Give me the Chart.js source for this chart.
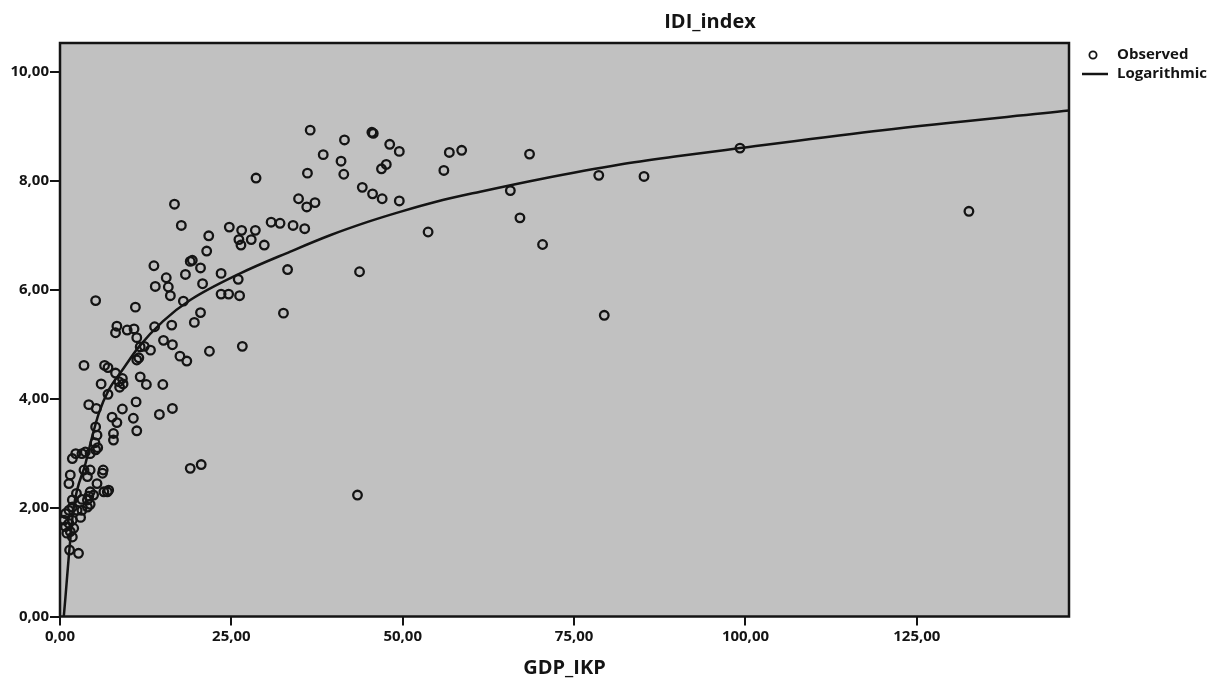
<!DOCTYPE html>
<html>
<head>
<meta charset="utf-8">
<script src="https://cdn.jsdelivr.net/npm/chart.js@4.4.1/dist/chart.umd.min.js"></script>
<style>
  html, body { margin: 0; padding: 0; background: #fff; }
  #wrap { width: 1216px; height: 678px; position: relative; }
</style>
</head>
<body>
<div id="wrap"><canvas id="chart" width="1216" height="678"></canvas></div>
<script>
// observed points (GDP_IKP, IDI_index)
const obsX = [36.5, 38.4, 41.5, 45.5, 45.7, 41.0, 41.4, 48.1, 49.5, 47.6, 46.9, 44.1, 45.6, 47.0, 49.5,
  56.8, 58.6, 56.0, 53.7, 43.7, 68.5, 78.6, 65.7, 67.1, 70.4, 79.4, 99.2, 85.2, 132.6, 43.4,
  36.1, 28.6, 34.8, 36.0, 37.2, 30.8, 32.1, 34.0, 35.7, 24.7, 26.5, 28.5, 21.7, 26.1, 26.4,
  27.9, 29.8, 21.4, 19.3, 20.5, 23.5, 33.2, 20.8, 26.0, 23.5, 24.6, 26.2, 20.5, 19.6, 32.6,
  21.8, 26.6, 20.6, 19.0, 16.7, 17.7, 13.7, 19.0, 18.3, 15.5, 13.9, 15.8, 5.2, 11.0, 16.1,
  18.0, 13.8, 8.3, 8.1, 9.8, 10.8, 11.2, 12.3, 11.7, 11.5, 11.2, 13.2, 15.1, 16.4, 16.3,
  17.5, 18.5, 3.5, 6.5, 7.0, 8.1, 6.0, 7.0, 8.6, 9.1, 9.2, 8.7, 11.7, 12.6, 15.0,
  4.2, 5.3, 11.1, 9.1, 7.6, 8.3, 10.7, 11.2, 7.8, 7.8, 14.5, 16.4, 5.2, 5.4, 5.1,
  5.5, 5.2, 4.4, 3.7, 3.2, 2.3, 1.8, 3.5, 4.0, 4.4, 1.5, 1.3, 6.3, 6.2, 5.4,
  6.9, 6.4, 7.1, 2.4, 4.2, 4.4, 4.9, 3.2, 4.0, 4.4, 4.0, 1.8, 1.8, 1.3, 2.5,
  3.2, 0.8, 0.6, 0.8, 1.3, 1.8, 2.0, 1.8, 3.0, 1.4, 2.7, 1.0, 1.5];
const obsY = [8.93, 8.48, 8.75, 8.89, 8.87, 8.36, 8.12, 8.67, 8.54, 8.30, 8.22, 7.88, 7.76, 7.67, 7.63,
  8.52, 8.56, 8.19, 7.06, 6.33, 8.49, 8.10, 7.82, 7.32, 6.83, 5.53, 8.60, 8.08, 7.44, 2.23,
  8.14, 8.05, 7.67, 7.52, 7.60, 7.24, 7.22, 7.18, 7.12, 7.15, 7.09, 7.09, 6.99, 6.92, 6.82,
  6.92, 6.82, 6.71, 6.54, 6.40, 6.30, 6.37, 6.11, 6.19, 5.92, 5.92, 5.89, 5.58, 5.40, 5.57,
  4.87, 4.96, 2.79, 2.72, 7.57, 7.18, 6.44, 6.52, 6.28, 6.22, 6.06, 6.05, 5.80, 5.68, 5.89,
  5.79, 5.32, 5.33, 5.21, 5.26, 5.28, 5.12, 4.96, 4.95, 4.75, 4.71, 4.89, 5.07, 4.99, 5.35,
  4.78, 4.69, 4.61, 4.61, 4.57, 4.47, 4.27, 4.08, 4.31, 4.37, 4.27, 4.21, 4.40, 4.26, 4.26,
  3.89, 3.82, 3.94, 3.81, 3.66, 3.56, 3.64, 3.41, 3.36, 3.24, 3.71, 3.82, 3.48, 3.33, 3.19,
  3.10, 3.06, 2.99, 3.02, 2.99, 2.99, 2.90, 2.69, 2.57, 2.69, 2.60, 2.44, 2.69, 2.63, 2.44,
  2.29, 2.29, 2.32, 2.26, 2.21, 2.29, 2.23, 2.15, 2.14, 2.06, 2.01, 2.14, 2.01, 1.95, 1.95,
  1.95, 1.89, 1.77, 1.65, 1.71, 1.77, 1.62, 1.46, 1.82, 1.22, 1.16, 1.53, 1.56];

// logarithmic fit line
const fitX = [0.55, 0.8, 1.28, 2.01, 3.72, 4.69, 5.66, 7.11, 9.07, 11.5, 15.0, 19.0, 26.3, 33.6, 39.4, 45.0, 49.6, 55.0, 61.3, 70.0, 81.7, 90.0, 99.2, 120.0, 147.2];
const fitY = [0.0, 0.36, 1.10, 2.01, 2.81, 3.30, 3.73, 4.16, 4.52, 4.95, 5.42, 5.81, 6.30, 6.70, 7.00, 7.25, 7.43, 7.62, 7.80, 8.03, 8.30, 8.45, 8.60, 8.93, 9.29];

const xTicks = [0, 25, 50, 75, 100, 125];
const yTicks = [0, 2, 4, 6, 8, 10];

const chartTitle = 'IDI_index';
const xTitle = 'GDP_IKP';
const legendLabels = ['Observed', 'Logarithmic'];

const FONT = '"Open Sans", "DejaVu Sans", sans-serif';
const INK = '#141414';

function fmt(v) {
  return v.toFixed(2).replace('.', ',');
}

const obsPoints = obsX.map((x, i) => ({ x: x, y: obsY[i] }));
const fitPoints = fitX.map((x, i) => ({ x: x, y: fitY[i] }));

// grey plot panel, frame, titles and legend
const decor = {
  id: 'decor',
  beforeDraw(chart) {
    const { ctx, chartArea: a } = chart;
    ctx.save();
    ctx.fillStyle = '#c1c1c1';
    ctx.fillRect(a.left, a.top, a.right - a.left, a.bottom - a.top);
    ctx.restore();
  },
  afterDraw(chart) {
    const { ctx, chartArea: a } = chart;
    ctx.save();
    ctx.strokeStyle = INK;
    ctx.lineWidth = 2.5;
    ctx.strokeRect(a.left, a.top, a.right - a.left, a.bottom - a.top);

    ctx.fillStyle = INK;
    ctx.textBaseline = 'middle';
    ctx.textAlign = 'center';
    ctx.font = 'bold 20px ' + FONT;
    ctx.fillText(chartTitle, 710, 22);
    ctx.fillText(xTitle, (a.left + a.right) / 2, 668);

    // legend
    ctx.textAlign = 'left';
    ctx.font = 'bold 15px ' + FONT;
    ctx.lineWidth = 1.8;
    ctx.beginPath();
    ctx.arc(1093, 55, 3.6, 0, Math.PI * 2);
    ctx.stroke();
    ctx.fillText(legendLabels[0], 1117, 55);
    ctx.lineWidth = 2.5;
    ctx.beginPath();
    ctx.moveTo(1082, 74);
    ctx.lineTo(1108, 74);
    ctx.stroke();
    ctx.fillText(legendLabels[1], 1117, 74);
    ctx.restore();
  }
};

new Chart(document.getElementById('chart'), {
  type: 'scatter',
  data: {
    datasets: [
      {
        label: legendLabels[0],
        data: obsPoints,
        pointRadius: 4.3,
        pointBorderWidth: 2.3,
        pointBorderColor: INK,
        pointBackgroundColor: 'rgba(0,0,0,0)',
        showLine: false
      },
      {
        label: legendLabels[1],
        data: fitPoints,
        showLine: true,
        pointRadius: 0,
        borderColor: INK,
        borderWidth: 2.5,
        cubicInterpolationMode: 'monotone',
        fill: false
      }
    ]
  },
  options: {
    responsive: false,
    animation: false,
    layout: { padding: { top: 43, right: 147, left: 0, bottom: 0 } },
    plugins: {
      legend: { display: false },
      tooltip: { enabled: false }
    },
    scales: {
      x: {
        type: 'linear',
        min: 0,
        max: 147.2,
        afterFit: (s) => { s.height = 61.5; },
        afterBuildTicks: (s) => { s.ticks = xTicks.map(v => ({ value: v })); },
        grid: { drawOnChartArea: false, drawTicks: true, tickLength: 9, color: INK, lineWidth: 2 },
        border: { display: false },
        ticks: {
          color: INK,
          padding: 2,
          maxRotation: 0,
          font: { family: FONT, size: 15, weight: 'bold' },
          callback: (v) => fmt(v)
        }
      },
      y: {
        type: 'linear',
        min: 0,
        max: 10.53,
        afterFit: (s) => { s.width = 60; },
        afterBuildTicks: (s) => { s.ticks = yTicks.map(v => ({ value: v })); },
        grid: { drawOnChartArea: false, drawTicks: true, tickLength: 10, color: INK, lineWidth: 2 },
        border: { display: false },
        ticks: {
          color: INK,
          padding: 1,
          font: { family: FONT, size: 15, weight: 'bold' },
          callback: (v) => fmt(v)
        }
      }
    }
  },
  plugins: [decor]
});
</script>
</body>
</html>
